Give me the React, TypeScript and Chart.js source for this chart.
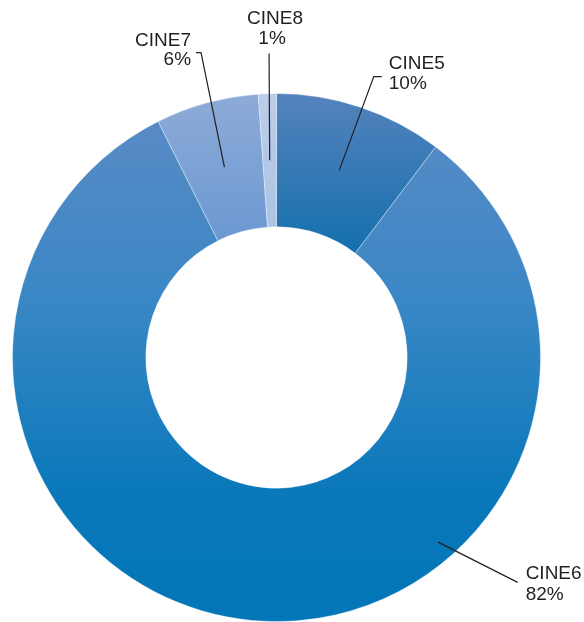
import React, { useEffect, useRef } from "react";
import { Chart, registerables } from "chart.js";

Chart.register(...registerables);

const categories = ["CINE5", "CINE6", "CINE7", "CINE8"];
const shares = [10.3, 82.3, 6.3, 1.1];

// gradient colour stops per slice: [fraction of chart area height, colour]
const sliceGradients: [number, string][][] = [
  [[0, "#5583bd"], [0.3, "#1470ad"]],
  [[0, "#5d8bc5"], [0.4, "#3987c5"], [0.75, "#0a78ba"], [1, "#0276b8"]],
  [[0, "#8eabd8"], [0.28, "#6b98d1"]],
  [[0, "#bccde8"], [0.28, "#a9c3e5"]],
];

type LabelLayout = {
  anchorAngle: number | null;
  anchorR: number;
  elbowAngle: number;
  elbowR: number;
  tail: number;
  textDx: number;
  align: CanvasTextAlign;
  base1: number;
  base2: number;
};
const labelLayouts: LabelLayout[] = [
  { anchorAngle: null, anchorR: 0.5, elbowAngle: 19.1, elbowR: 1.126, tail: 8, textDx: 15, align: "left", base1: -8, base2: 12 },
  { anchorAngle: 138.8, anchorR: 0.86, elbowAngle: 133.0, elbowR: 1.249, tail: 0, textDx: 8, align: "left", base1: -3, base2: 18 },
  { anchorAngle: null, anchorR: 0.5, elbowAngle: -13.9, elbowR: 1.19, tail: -5, textDx: -10, align: "right", base1: -7, base2: 12 },
  { anchorAngle: null, anchorR: 0.5, elbowAngle: -1.4, elbowR: 1.152, tail: 0, textDx: 6, align: "center", base1: -29, base2: -9 },
];

const leaderPlugin = {
  id: "leaderLabels",
  afterDraw(chart: any) {
    const ctx = chart.ctx as CanvasRenderingContext2D;
    const meta = chart.getDatasetMeta(0);
    const data = chart.data.datasets[0].data as number[];
    const total = data.reduce((a, b) => a + b, 0);
    ctx.save();
    ctx.strokeStyle = "#231f20";
    ctx.fillStyle = "#231f20";
    ctx.lineWidth = 1.2;
    ctx.font = "19px 'Liberation Sans', Arial, sans-serif";
    meta.data.forEach((arc: any, i: number) => {
      const L = labelLayouts[i];
      const p = arc.getProps(["x", "y", "startAngle", "endAngle", "innerRadius", "outerRadius"], true);
      const cx = p.x, cy = p.y;
      const R = p.outerRadius;
      const aAng = L.anchorAngle === null
        ? (p.startAngle + p.endAngle) / 2
        : (L.anchorAngle - 90) * Math.PI / 180;
      const aR = p.innerRadius + (p.outerRadius - p.innerRadius) * L.anchorR;
      const ax = cx + Math.cos(aAng) * aR;
      const ay = cy + Math.sin(aAng) * aR;
      const eAng = (L.elbowAngle - 90) * Math.PI / 180;
      const ex = cx + Math.cos(eAng) * R * L.elbowR;
      const ey = cy + Math.sin(eAng) * R * L.elbowR;
      ctx.beginPath();
      ctx.moveTo(ax, ay);
      ctx.lineTo(ex, ey);
      if (L.tail !== 0) ctx.lineTo(ex + L.tail, ey);
      ctx.stroke();
      ctx.textAlign = L.align;
      ctx.textBaseline = "alphabetic";
      const pct = Math.round((data[i] / total) * 100) + "%";
      ctx.fillText(chart.data.labels[i], ex + L.textDx, ey + L.base1);
      ctx.fillText(pct, ex + L.textDx - (L.align === "center" ? 3 : 0), ey + L.base2);
    });
    ctx.restore();
  },
};

export default function App() {
  const ref = useRef<HTMLCanvasElement>(null);
  useEffect(() => {
    document.body.style.margin = "0";
    const canvas = ref.current!;
    const chart = new Chart(canvas, {
      type: "doughnut",
      data: {
        labels: categories,
        datasets: [
          {
            data: shares,
            backgroundColor: (c: any) => {
              const area = c.chart.chartArea;
              const stops = sliceGradients[c.dataIndex];
              if (!area) return stops[0][1];
              const g = c.chart.ctx.createLinearGradient(0, area.top, 0, area.bottom);
              stops.forEach(([f, col]) => g.addColorStop(f, col));
              return g;
            },
            borderColor: "rgba(255,255,255,0.35)",
            borderWidth: 1,
          },
        ],
      },
      options: {
        animation: false,
        responsive: false,
        cutout: "49.5%",
        rotation: 0,
        layout: { padding: { top: 93, left: 11.5, right: 42.5, bottom: -1 } },
        plugins: {
          legend: { display: false },
          tooltip: { enabled: false },
        },
      },
      plugins: [leaderPlugin],
    });
    return () => chart.destroy();
  }, []);
  return (
    <div style={{ width: 584, height: 622, background: "#fff" }}>
      <canvas ref={ref} width={584} height={622} style={{ display: "block" }} />
    </div>
  );
}
